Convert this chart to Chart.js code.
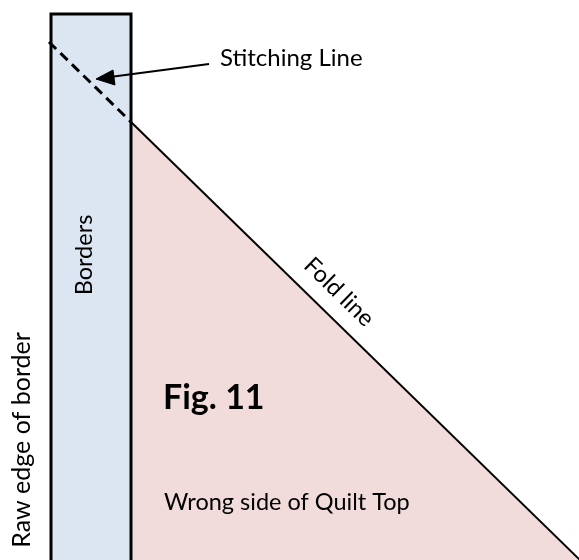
<!DOCTYPE html>
<html>
<head>
<meta charset="utf-8">
<script src="https://cdn.jsdelivr.net/npm/chart.js@4.4.0/dist/chart.umd.min.js"></script>
<style>
  html, body { margin: 0; padding: 0; background: #fff; }
  #wrap { width: 579px; height: 560px; }
</style>
</head>
<body>
<div id="wrap"><canvas id="fig" width="579" height="560"></canvas></div>
<script>
// --- Diagram data (in page units, y grows downward) ---
const borderStrip = [
    { x: 51, y: 565 }, { x: 51, y: 14 }, { x: 131, y: 14 }, { x: 131, y: 565 }
];
const foldLine = [
    { x: 131, y: 122 }, { x: 580, y: 560 }
];
const stitchLine = [
    { x: 49, y: 42 }, { x: 131, y: 122 }
];
const arrowShaft = [
    { x: 209, y: 64 }, { x: 110, y: 77 }
];
const arrowHead = [
    { x: 96, y: 79 }, { x: 113, y: 70 }, { x: 115, y: 85 }, { x: 96, y: 79 }
];

// labels: text, anchor point, rotation (degrees)
const labels = [
    { text: 'Stitching Line', x: 220, y: 58, rot: 0, weight: 'normal', size: 24, align: 'left' },
    { text: 'Borders', x: 84, y: 255, rot: -90, weight: 'normal', size: 23.5, align: 'center' },
    { text: 'Fold line', x: 339, y: 292, rot: 44.3, weight: 'normal', size: 23.5, align: 'center' },
    { text: 'Fig. 11', x: 163, y: 398, rot: 0, weight: 'bold', size: 34, align: 'left' },
    { text: 'Wrong side of Quilt Top', x: 164, y: 502, rot: 0, weight: 'normal', size: 23.5, align: 'left' },
    { text: 'Raw edge of border', x: 22, y: 440, rot: -90, weight: 'normal', size: 25, align: 'center' }
];

const FONT = "Lato, 'Open Sans', sans-serif";

// --- Text labels drawn on top ---
const labelPlugin = {
    id: 'labels',
    afterDatasetsDraw(chart) {
        const { ctx, scales } = chart;
        labels.forEach(l => {
            ctx.save();
            ctx.translate(scales.x.getPixelForValue(l.x), scales.y.getPixelForValue(l.y));
            ctx.rotate(l.rot * Math.PI / 180);
            ctx.font = l.weight + ' ' + l.size + 'px ' + FONT;
            ctx.fillStyle = '#000';
            ctx.textAlign = l.align;
            ctx.textBaseline = 'middle';
            ctx.fillText(l.text, 0, 0);
            ctx.restore();
        });
    }
};

function lineSet(data, extra) {
    return Object.assign({
        data: data,
        showLine: true,
        pointRadius: 0,
        pointHoverRadius: 0,
        borderColor: '#000',
        borderWidth: 2,
        backgroundColor: 'transparent',
        fill: false,
        tension: 0
    }, extra);
}

new Chart(document.getElementById('fig'), {
    type: 'scatter',
    data: {
        datasets: [
            lineSet(arrowHead, { fill: 'shape', backgroundColor: '#000', borderWidth: 1 }),
            lineSet(arrowShaft, { borderWidth: 2 }),
            lineSet(stitchLine, { borderWidth: 3, borderDash: [10, 6] }),
            lineSet(borderStrip, { borderWidth: 3, fill: { value: 565 }, backgroundColor: '#dce6f2' }),
            lineSet(foldLine, { borderWidth: 2, fill: { value: 565 }, backgroundColor: '#f2dcdb' })
        ]
    },
    options: {
        responsive: false,
        animation: false,
        layout: { padding: 0 },
        plugins: {
            legend: { display: false },
            tooltip: { enabled: false }
        },
        scales: {
            x: { type: 'linear', min: 0, max: 579, display: false },
            y: { type: 'linear', min: 0, max: 560, reverse: true, display: false }
        }
    },
    plugins: [labelPlugin]
});
</script>
</body>
</html>
